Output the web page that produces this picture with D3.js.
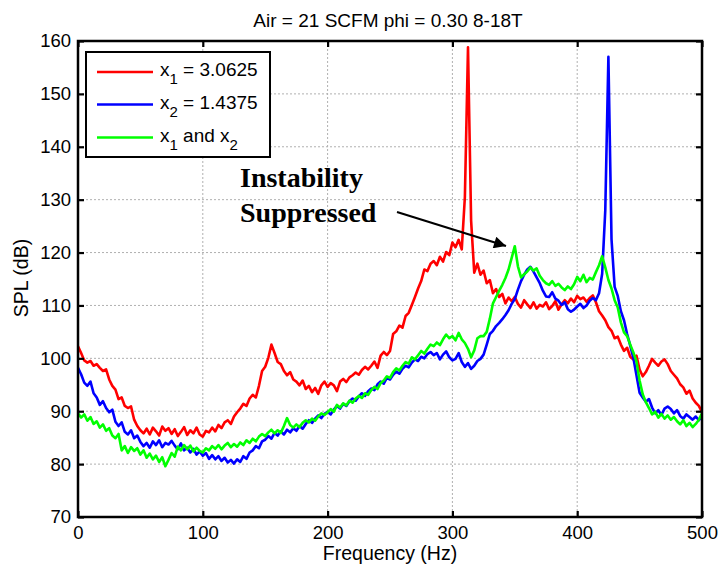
<!DOCTYPE html>
<html>
<head>
<meta charset="utf-8">
<script src="https://cdn.jsdelivr.net/npm/d3@7/dist/d3.min.js"></script>
<style>
  html, body { margin: 0; padding: 0; background: #fff; }
  svg { display: block; }
</style>
</head>
<body>
<svg id="chart" width="719" height="567"></svg>
<script>
// Frequency grid (Hz): one sample every 2.5 Hz from 0 to 500
const step = 2.5;

// SPL (dB) spectra, one value per frequency sample
const splX1 = [
  102.3, 101.0, 99.6, 99.2, 99.5, 98.6, 98.9, 98.2, 97.6, 97.9,
  96.0, 94.8, 94.1, 92.3, 92.6, 91.0, 90.6, 90.9, 88.4, 87.2,
  86.4, 85.8, 86.7, 85.6, 86.9, 86.2, 85.4, 87.1, 86.3, 86.8,
  85.7, 86.6, 85.3, 86.1, 87.0, 85.5, 86.4, 85.8, 86.9, 85.6,
  85.2, 86.3, 86.0, 86.9, 86.2, 87.4, 86.8, 87.9, 88.3, 87.6,
  89.0, 89.8, 90.5, 91.4, 91.0, 92.4, 93.1, 92.6, 94.8, 97.6,
  98.4, 100.1, 102.6, 101.0, 99.3, 98.9, 97.6, 96.8, 97.4, 96.0,
  95.6, 94.9, 95.8, 94.2, 94.8, 93.6, 94.4, 93.3, 94.9, 95.6,
  94.6, 95.3, 94.9, 93.8, 95.6, 96.1, 95.5, 96.4, 96.8, 97.3,
  96.9, 97.8, 98.4, 97.9, 98.6, 99.4, 98.2, 100.5, 101.2, 100.6,
  101.4, 104.6, 105.1, 106.2, 105.8, 108.0, 108.6, 110.1, 111.6, 113.2,
  114.6, 116.8, 116.5, 117.9, 118.4, 117.6, 119.2, 118.3, 120.1, 119.5,
  121.9, 121.0, 122.4, 120.6, 130.5, 158.8, 126.0, 116.2, 117.9, 115.8,
  116.6, 114.2, 114.8, 112.3, 113.1, 111.6, 112.2, 110.4, 111.5, 110.8,
  111.6, 110.3, 109.6, 111.0, 110.2, 109.5, 110.6, 109.4, 110.1, 109.8,
  110.6, 109.3, 109.9, 110.8, 109.2, 110.2, 111.0, 110.4, 111.3, 110.6,
  111.8, 111.2, 111.5, 110.7, 111.4, 111.9, 110.6, 108.9, 108.1, 107.2,
  105.9, 105.2, 103.8, 104.1, 102.6, 101.4, 102.0, 100.3, 99.8, 100.5,
  97.9, 96.6, 97.4, 98.6, 99.9, 99.2, 98.6, 99.4, 99.8, 98.9,
  97.6, 96.9, 96.2, 95.1, 94.5, 93.3, 93.9, 92.4, 91.6, 91.0,
  89.8
];

const splX2 = [
  98.2, 97.0, 95.4, 94.8, 95.6, 93.4, 92.6, 91.2, 91.9, 90.6,
  89.8, 90.3, 88.0, 87.2, 87.9, 86.1, 85.6, 86.4, 84.9, 85.4,
  84.2, 83.4, 84.0, 83.1, 84.3, 83.6, 84.5, 83.2, 84.0, 83.7,
  84.4, 83.5, 82.8, 83.9, 82.6, 83.1, 82.2, 82.9, 81.8, 82.4,
  81.6, 82.1, 81.0, 81.7, 80.9, 81.5, 80.6, 81.2, 80.3, 80.8,
  80.1, 80.9, 80.4, 81.5, 81.0, 82.2, 82.6, 83.4, 83.0, 84.3,
  84.6, 85.3, 84.8, 85.9, 85.4, 86.2, 85.6, 86.5, 86.0, 86.8,
  86.3, 87.2, 86.7, 87.6, 88.3, 87.8, 88.6, 89.2, 88.7, 89.5,
  89.9, 89.4, 90.3, 91.0, 90.5, 91.4, 91.0, 91.9, 92.4, 92.0,
  92.8, 93.4, 92.9, 93.8, 94.3, 94.0, 95.1, 95.6, 95.2, 96.3,
  96.0, 96.9, 97.5, 97.1, 98.0, 98.6, 98.3, 99.2, 99.8, 99.5,
  100.3, 100.0, 100.8, 101.2, 100.6, 101.0, 99.8, 100.7, 101.3, 100.2,
  99.6, 99.9, 101.0, 99.3, 98.4, 99.1, 98.0, 98.6, 99.5, 99.9,
  100.7, 102.6, 104.6, 105.2, 106.1, 106.7, 107.4, 108.2, 109.1, 110.3,
  111.2, 113.0, 114.6, 115.8, 116.8, 117.3, 116.4, 115.3, 114.2, 112.8,
  111.7, 111.6, 112.5, 111.3, 110.9, 110.1, 110.6, 109.3, 108.8, 109.2,
  109.8, 110.3, 109.5, 110.0, 110.9, 111.4, 111.0, 112.3, 116.0, 128.0,
  157.0, 122.5, 113.5, 111.8, 108.9, 107.2, 104.6, 102.4, 100.1, 96.8,
  93.5, 92.6, 91.8, 92.3, 90.7, 89.6, 90.2, 89.3, 90.5, 90.9,
  90.4, 89.6, 90.2, 89.1, 88.6, 89.4, 88.9, 88.4, 89.0, 88.3,
  89.1
];

const splBoth = [
  89.6, 88.8, 89.4, 88.2, 88.9, 87.6, 88.1, 86.9, 87.5, 86.3,
  86.8, 85.4, 84.9, 85.7, 82.6, 83.4, 82.1, 83.2, 82.5, 83.0,
  81.8, 82.6, 81.2, 82.0, 80.9, 81.6, 80.4, 81.3, 79.6, 80.8,
  82.1, 81.4, 83.3, 82.6, 83.6, 82.8, 83.5, 82.4, 83.1, 82.5,
  82.2, 83.0, 82.6, 83.4, 82.9, 83.6, 82.8, 83.5, 84.0, 83.2,
  83.8, 83.3, 84.1, 83.6, 84.5, 84.0, 84.8, 84.3, 85.2, 85.7,
  85.3, 86.0, 86.5, 85.8, 86.4, 85.9, 87.2, 88.7, 87.4, 86.9,
  87.5, 87.0, 87.8, 88.3, 87.9, 88.6, 88.2, 89.0, 89.6, 89.3,
  89.8, 90.4, 89.9, 91.2, 90.7, 91.5, 91.1, 92.0, 91.6, 92.4,
  92.9, 92.5, 93.4, 93.1, 94.0, 94.6, 94.2, 95.3, 95.8, 96.6,
  96.3, 97.4, 98.1, 97.7, 98.6, 99.3, 99.0, 100.2, 99.8, 100.6,
  101.4, 100.9, 101.8, 102.6, 102.3, 103.0, 102.5, 103.6, 104.5, 103.8,
  104.2, 103.4, 104.8, 103.6, 102.9, 101.8, 100.2, 101.5, 103.8, 104.2,
  104.2, 105.0, 107.5, 110.4, 111.6, 112.8, 113.9, 115.2, 116.8, 119.0,
  121.2, 117.4, 115.3, 115.9, 116.4, 117.2, 116.6, 117.0, 115.6, 114.8,
  114.2, 113.9, 114.6, 113.7, 114.1, 113.4, 112.9, 113.6, 113.1, 114.0,
  115.4, 114.6, 115.8, 114.4, 115.2, 114.9, 116.3, 117.6, 119.3, 117.2,
  114.8, 113.2, 111.0, 109.6, 106.8, 104.9, 104.2, 102.6, 101.1, 99.4,
  95.8, 93.2, 91.7, 90.6, 89.4, 89.9, 88.8, 89.5, 88.6, 89.2,
  88.4, 88.9, 88.1, 87.5, 88.3, 87.2, 87.8, 87.0, 87.6, 88.4,
  89.6
];

const seriesColors = ["#ff0000", "#0000ff", "#00ff00"];
const xTicks = [0, 100, 200, 300, 400, 500];
const yTicks = [70, 80, 90, 100, 110, 120, 130, 140, 150, 160];
const titleText = "Air = 21 SCFM phi = 0.30 8-18T";
const xLabel = "Frequency (Hz)";
const yLabel = "SPL (dB)";
const noteLines = ["Instability", "Suppressed"];

const SANS = '"Liberation Sans", Arial, Helvetica, sans-serif';
const SERIF = '"Liberation Serif", "Times New Roman", serif';

// ---- layout ----
const svg = d3.select("#chart");
const L = 78, R = 702, T = 41, B = 517;
const x = d3.scaleLinear().domain([0, 500]).range([L, R]);
const y = d3.scaleLinear().domain([70, 160]).range([B, T]);

// dotted grid
const grid = svg.append("g").attr("stroke", "#b0b0b0").attr("stroke-width", 1)
  .attr("stroke-dasharray", "2,2");
grid.selectAll("line.v").data(xTicks.slice(1, -1)).join("line")
  .attr("x1", d => x(d)).attr("x2", d => x(d)).attr("y1", T).attr("y2", B);
grid.selectAll("line.h").data(yTicks.slice(1, -1)).join("line")
  .attr("y1", d => y(d)).attr("y2", d => y(d)).attr("x1", L).attr("x2", R);

// spectra
const line = d3.line().x((d, i) => x(i * step)).y(d => y(d));
svg.append("clipPath").attr("id", "plotclip")
  .append("rect").attr("x", L).attr("y", T).attr("width", R - L).attr("height", B - T);
const plot = svg.append("g").attr("clip-path", "url(#plotclip)");
[splX1, splX2, splBoth].forEach((s, k) => {
  plot.append("path").datum(s)
    .attr("fill", "none")
    .attr("stroke", seriesColors[k])
    .attr("stroke-width", 2.6)
    .attr("stroke-linejoin", "round")
    .attr("d", line);
});

// axes with inward ticks on all four sides
const axL = svg.append("g").attr("transform", `translate(${L},0)`)
  .call(d3.axisLeft(y).tickValues(yTicks).tickSize(-6).tickPadding(7));
const axB = svg.append("g").attr("transform", `translate(0,${B})`)
  .call(d3.axisBottom(x).tickValues(xTicks).tickSize(-6).tickPadding(9));
const axR = svg.append("g").attr("transform", `translate(${R},0)`)
  .call(d3.axisRight(y).tickValues(yTicks).tickSize(-6).tickFormat(""));
const axT = svg.append("g").attr("transform", `translate(0,${T})`)
  .call(d3.axisTop(x).tickValues(xTicks).tickSize(-6).tickFormat(""));
[axL, axB, axR, axT].forEach(a => {
  a.select(".domain").remove();
  a.selectAll("line").attr("stroke", "#000").attr("stroke-width", 2.2);
  a.selectAll("text").style("font-family", SANS).style("font-size", "18.5px")
    .attr("fill", "#000");
});
svg.append("rect").attr("x", L).attr("y", T).attr("width", R - L).attr("height", B - T)
  .attr("fill", "none").attr("stroke", "#000").attr("stroke-width", 2.5);

// title and axis labels
svg.append("text").attr("x", 388).attr("y", 27).attr("text-anchor", "middle")
  .style("font-family", SANS).style("font-size", "19px").text(titleText);
svg.append("text").attr("x", 390).attr("y", 560).attr("text-anchor", "middle")
  .style("font-family", SANS).style("font-size", "19.5px").text(xLabel);
svg.append("text").attr("transform", "translate(28,278) rotate(-90)")
  .attr("text-anchor", "middle")
  .style("font-family", SANS).style("font-size", "19.5px").text(yLabel);

// legend
const lg = svg.append("g");
lg.append("rect").attr("x", 86).attr("y", 52).attr("width", 184).attr("height", 105)
  .attr("fill", "#fff").attr("stroke", "#000").attr("stroke-width", 2);
const rowY = [72, 104.5, 137.5];
const legendParts = [
  [["x", 0], ["1", 1], [" = 3.0625", 0]],
  [["x", 0], ["2", 1], [" = 1.4375", 0]],
  [["x", 0], ["1", 1], [" and x", 0], ["2", 1]]
];
legendParts.forEach((parts, k) => {
  lg.append("line").attr("x1", 97).attr("x2", 153).attr("y1", rowY[k]).attr("y2", rowY[k])
    .attr("stroke", seriesColors[k]).attr("stroke-width", 2.6);
  const t = lg.append("text").attr("x", 160).attr("y", rowY[k] + 4)
    .style("font-family", SANS).style("font-size", "19px");
  let sub = false;
  parts.forEach(([s, isSub]) => {
    const dy = isSub && !sub ? 8 : (!isSub && sub ? -8 : 0);
    t.append("tspan").attr("dy", dy).style("font-size", isSub ? "15px" : "19px").text(s);
    sub = !!isSub;
  });
});

// annotation with arrow
const note = svg.append("g");
noteLines.forEach((s, i) => {
  note.append("text").attr("x", 240).attr("y", 187 + i * 35)
    .style("font-family", SERIF).style("font-weight", "bold").style("font-size", "28px")
    .text(s);
});
svg.append("defs").append("marker").attr("id", "ah")
  .attr("viewBox", "0 0 10 10").attr("refX", 10).attr("refY", 5)
  .attr("markerWidth", 19).attr("markerHeight", 12).attr("markerUnits", "userSpaceOnUse")
  .attr("orient", "auto")
  .append("path").attr("d", "M0,0 L10,5 L0,10 Z").attr("fill", "#000");
note.append("line").attr("x1", 397).attr("y1", 212).attr("x2", 506).attr("y2", 246)
  .attr("stroke", "#000").attr("stroke-width", 2.2).attr("marker-end", "url(#ah)");
</script>
</body>
</html>
